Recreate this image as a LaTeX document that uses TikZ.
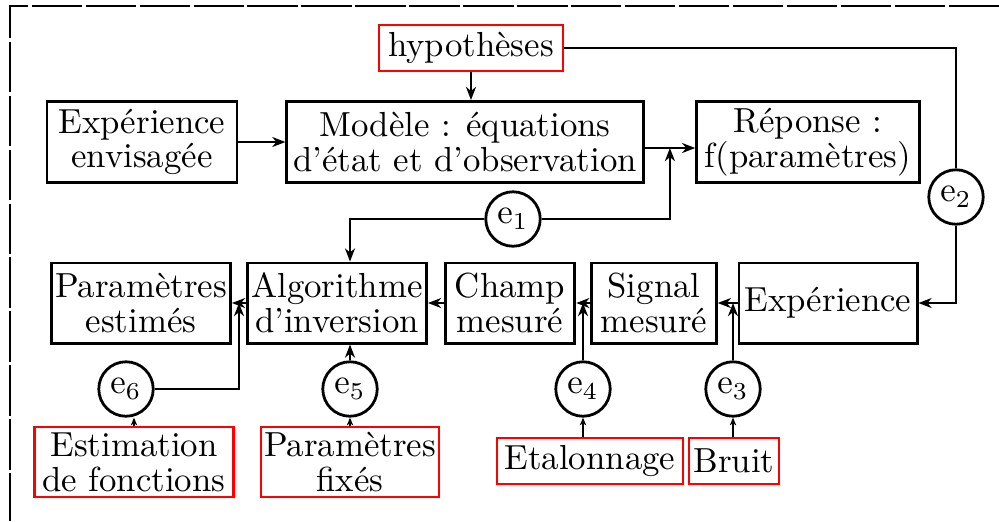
\documentclass[tikz,border=0pt]{standalone}
\usepackage{tikz}
\usetikzlibrary{calc, positioning, arrows.meta}

\begin{document}
\begin{tikzpicture}[>={Stealth[length=3.8pt, width=2.9pt, inset=1.2pt]}, x=0.0101cm, y=-0.0101cm,
    font=\fontsize{10}{10}\selectfont,
    boite/.style={draw, thick, align=center, minimum height=0.82cm, inner sep=1pt},
    hypo/.style={draw=red, semithick, align=center, inner sep=1pt},
    erreur/.style={draw, thick, circle, minimum size=0.55cm, inner sep=0pt},
    petite/.style={-{Stealth[length=2.2pt, width=1.8pt, inset=0.6pt]}}]
    % Cadre de la figure
    \useasboundingbox (0,0) rectangle (999,521);
    \draw[line width=0.6pt, dash pattern=on 14.5pt off 1pt] (999,6) -- (10,6) -- (10,521);

    % Ligne du haut : modele direct
    \node[hypo, minimum width=1.85cm, minimum height=0.47cm] (hyp) at (471,48) {hypothèses};
    \node[boite, minimum width=1.92cm] (expenv) at (142,142) {Expérience\\envisagée};
    \node[boite, minimum width=3.6cm] (modele) at (465,142) {Modèle : équations\\d'état et d'observation};
    \node[boite, minimum width=2.25cm] (reponse) at (808,142) {Réponse :\\f(paramètres)};

    % Ligne du milieu : chaine de mesure et inversion
    \node[boite, minimum width=1.81cm, minimum height=0.81cm] (estim) at (141,303) {Paramètres\\estimés};
    \node[boite, minimum width=1.81cm, minimum height=0.81cm] (algo) at (337,303) {Algorithme\\d'inversion};
    \node[boite, minimum width=1.31cm, minimum height=0.81cm] (champ) at (510,303) {Champ\\mesuré};
    \node[boite, minimum width=1.26cm, minimum height=0.81cm] (signal) at (654,303) {Signal\\mesuré};
    \node[boite, minimum width=1.8cm, minimum height=0.81cm] (exp) at (828,303) {Expérience};

    % Sources d'erreur
    \node[erreur] (e1) at (513,219) {$\mathrm{e}_1$};
    \node[erreur] (e2) at (956,197) {$\mathrm{e}_2$};
    \node[erreur] (e3) at (733,389) {$\mathrm{e}_3$};
    \node[erreur] (e4) at (583,389) {$\mathrm{e}_4$};
    \node[erreur] (e5) at (350,389) {$\mathrm{e}_5$};
    \node[erreur] (e6) at (126,389) {$\mathrm{e}_6$};

    % Ligne du bas : hypotheses supplementaires
    \node[hypo, minimum width=2.01cm, minimum height=0.71cm] (fonct) at (134,462) {Estimation\\de fonctions};
    \node[hypo, minimum width=1.77cm, minimum height=0.71cm] (fixes) at (350,462) {Paramètres\\fixés};
    \node[hypo, minimum width=1.88cm, minimum height=0.47cm] (etal) at (590,461) {Etalonnage};
    \node[hypo, minimum width=0.91cm, minimum height=0.47cm] (bruit) at (734,461) {Bruit};

    % Connexions
    \coordinate (m1) at ($(modele.east)!0.5!(reponse.west)+(0,6)$);
    \draw[->] (hyp.south) -- (hyp |- modele.north);
    \draw (hyp.east) -| (e2.north);
    \draw[->] (e2.south) |- (exp.east);
    \draw[->] (expenv) -- (modele);
    \draw[->] (modele.east |- m1) -- (reponse.west |- m1);
    \draw[->] (e1.east) -| (m1);
    \draw[->] (e1.west) -| (e5 |- algo.north);

    \draw[->] (exp) -- (signal);
    \draw[->] (signal) -- (champ);
    \draw[->] (champ) -- (algo);
    \draw[->] (algo) -- (estim);
    \draw[->] (e3.north) -- (e3 |- exp.west);
    \draw[->] (e4.north) -- (e4 |- signal.west);
    \coordinate (m6) at ($(estim.east)!0.5!(algo.west)$);
    \draw[->] (e6.east) -| (m6);
    \draw[->] (e5.north) -- (e5 |- algo.south);

    \draw[petite] (fonct.north) -- (fonct.north |- e6.south);
    \draw[petite] (fixes.north) -- (e5.south);
    \draw[petite] (etal.north -| e4) -- (e4.south);
    \draw[petite] (bruit.north -| e3) -- (e3.south);
\end{tikzpicture}
\end{document}
